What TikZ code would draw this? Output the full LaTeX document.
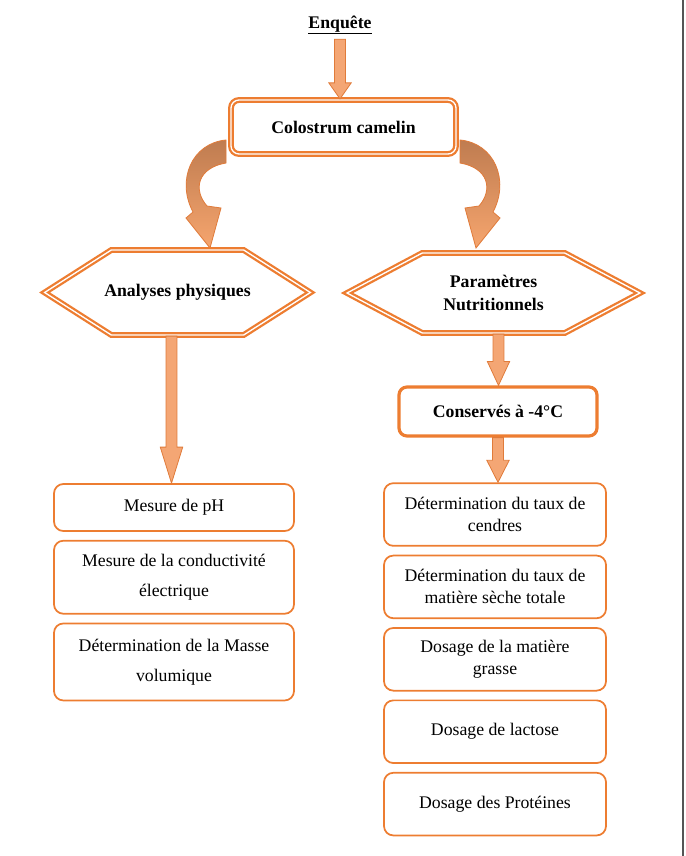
\documentclass[tikz,border=0pt]{standalone}
\usepackage{fontspec}
\setmainfont{Liberation Serif}
\usetikzlibrary{shapes.symbols, positioning, calc}

\definecolor{orangeline}{HTML}{ED7D31}
\definecolor{arrowfill}{HTML}{F4A674}
\definecolor{arrowline}{HTML}{E07B3A}
\definecolor{curvetop}{HTML}{BF7C50}
\definecolor{curvebot}{HTML}{F6A56E}
\definecolor{pageline}{HTML}{555555}

\tikzstyle{headline} = [font=\fontsize{13.3}{16}\selectfont\bfseries]
\tikzstyle{mainbox} = [rectangle, rounded corners=6pt, minimum width=168.75pt, minimum height=40.5pt, draw=orangeline, double=white, double distance=1pt, line width=1.7pt, fill=white, font=\fontsize{13.3}{16}\selectfont\bfseries]
\tikzstyle{hexa} = [signal, signal to=west and east, draw=orangeline, double=white, double distance=1pt, line width=1.7pt, fill=white, align=center, font=\fontsize{13.3}{17.5}\selectfont\bfseries]
\tikzstyle{storebox} = [rectangle, rounded corners=6pt, minimum width=148.5pt, minimum height=36.75pt, draw=orangeline, line width=2.4pt, fill=white, font=\fontsize{13.3}{16}\selectfont\bfseries]
\tikzstyle{leftbox} = [rectangle, rounded corners=7pt, minimum width=180pt, draw=orangeline, line width=1.3pt, align=center, font=\fontsize{13.3}{22.5}\selectfont]
\tikzstyle{rightbox} = [rectangle, rounded corners=7pt, minimum width=166.5pt, minimum height=47pt, draw=orangeline, line width=1.3pt, align=center, font=\fontsize{13.3}{16.5}\selectfont]
\tikzstyle{blockarrow} = [fill=arrowfill, draw=arrowline, line width=0.6pt]
\tikzstyle{bendarrow} = [top color=curvetop, bottom color=curvebot, draw=arrowline, line width=0.6pt]

% straight block arrow: from, to, head length
\newcommand{\fatdown}[3]{%
\filldraw[blockarrow] let \p1=(#1), \p2=(#2) in
 (\x1-4.1pt,\y1) -- (\x1+4.1pt,\y1) -- (\x1+4.1pt,\y2+#3) -- (\x1+8.4pt,\y2+#3)
 -- (\x1,\y2) -- (\x1-8.4pt,\y2+#3) -- (\x1-4.1pt,\y2+#3) -- cycle;
}

% curved arrow on the left of the main box
\newcommand{\curlarrow}{%
\shadedraw[bendarrow] (226,140) .. controls (192,143) and (176,180) .. (193,212)
 -- (186,218) -- (210,248) -- (221,208) -- (207,206)
 .. controls (193,190) and (197,168) .. (226,163) -- cycle;
}

\begin{document}
\begin{tikzpicture}[x=0.75pt, y=-0.75pt, node distance=6pt]

\useasboundingbox (0,0) rectangle (685,856);

% Curved Arrows
\curlarrow
\begin{scope}[shift={(686,0)}, xscale=-1]
\curlarrow
\end{scope}

% Top Nodes
\node (enq) [headline] at (340,25) {\underline{Enquête}};
\node (colo) [mainbox] at (343.5,127) {Colostrum camelin};

% Two Branches
\node (phys) [hexa, inner xsep=-5.25pt, minimum height=63.75pt, signal pointer angle=65] at (177.5,292.5) {Analyses physiques};
\node (nutri) [hexa, inner xsep=15.75pt, minimum height=60pt, signal pointer angle=56] at (493.5,293) {Paramètres\\Nutritionnels};
\node (cons) [storebox] at (498,411.5) {Conservés à -4°C};

% Physical Analyses
\node (ph) [leftbox, minimum height=35.25pt] at (174,507.5) {Mesure de pH};
\node (cond) [leftbox, minimum height=54.75pt, below=of ph] {Mesure de la conductivité\\électrique};
\node (masse) [leftbox, minimum height=57.75pt, below=of cond] {Détermination de la Masse\\volumique};

% Nutritional Parameters
\node (cendres) [rightbox] at (495,514.5) {Détermination du taux de\\cendres};
\node (mst) [rightbox, below=of cendres] {Détermination du taux de\\matière sèche totale};
\node (mg) [rightbox, below=of mst] {Dosage de la matière\\grasse};
\node (lact) [rightbox, below=of mg] {Dosage de lactose};
\node (prot) [rightbox, below=of lact] {Dosage des Protéines};

% Arrows
\fatdown{enq.south}{colo.north}{12pt}
\fatdown{[xshift=-4.5pt]phys.south}{ph.north}{27pt}
\fatdown{[xshift=3.75pt]nutri.south}{cons.north}{18pt}
\fatdown{cons.south}{cendres.north}{16.5pt}

% Page Border
\draw[pageline, line width=1.2pt] (683,0) -- (683,856);

\end{tikzpicture}
\end{document}
